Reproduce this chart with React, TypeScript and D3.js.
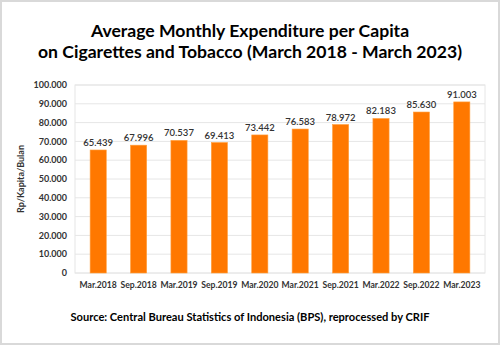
import React from "react";
import * as d3 from "d3";

const categories = ["Mar.2018", "Sep.2018", "Mar.2019", "Sep.2019", "Mar.2020", "Mar.2021", "Sep.2021", "Mar.2022", "Sep.2022", "Mar.2023"];
const values = [65439, 67996, 70537, 69413, 73442, 76583, 78972, 82183, 85630, 91003];
const yTicks = [0, 10000, 20000, 30000, 40000, 50000, 60000, 70000, 80000, 90000, 100000];
const titleLines = ["Average Monthly Expenditure per Capita", "on Cigarettes and Tobacco (March 2018 - March 2023)"];
const yTitle = "Rp/Kapita/Bulan";
const source = "Source: Central Bureau Statistics of Indonesia (BPS), reprocessed by CRIF";

const W = 500, H = 345;
const plot = { left: 78, right: 482, top: 85, bottom: 273 };
const fmt = (v: number) => d3.format(",")(v).replace(/,/g, ".");
const FONT = "Lato, 'Open Sans', sans-serif";

export default function App() {
  const x = d3.scaleBand<string>().domain(categories).range([plot.left, plot.right]).paddingInner(0.6).paddingOuter(0.3);
  const y = d3.scaleLinear().domain([0, 100000]).range([plot.bottom, plot.top]);
  return (
    <svg width={W} height={H} style={{ position: "absolute", left: 0, top: 0 }} fontFamily={FONT}>
      <rect x={1} y={1} width={W - 2} height={H - 2} fill="#fff" stroke="#d9d9d9" strokeWidth={2} />
      {titleLines.map((t, i) => (
        <text key={i} x={W / 2} y={37 + i * 20.5} textAnchor="middle" fontSize={17.6} fontWeight={700} fill="#000">{t}</text>
      ))}
      <rect x={75} y={plot.top} width={410} height={plot.bottom - plot.top} fill="none" stroke="#e6e6e6" strokeWidth={1} />
      {yTicks.map((t) => (
        <g key={t}>
          <line x1={75} x2={485} y1={y(t)} y2={y(t)} stroke="#e6e6e6" strokeWidth={1} />
          <text x={67} y={y(t)} dy="0.35em" textAnchor="end" fontSize={9} fontWeight={700} fill="#333">{fmt(t)}</text>
        </g>
      ))}
      {categories.map((c, i) => (
        <g key={c}>
          <rect x={x(c)} y={y(values[i])} width={x.bandwidth()} height={y(0) - y(values[i])} fill="#FF7800" stroke="#FFA040" strokeWidth={0.6} />
          <text x={(x(c) as number) + x.bandwidth() / 2} y={y(values[i]) - 4} textAnchor="middle" fontSize={9.5} fontWeight={600} fill="#333">{fmt(values[i])}</text>
          <text x={(x(c) as number) + x.bandwidth() / 2} y={288} textAnchor="middle" fontSize={8.6} fontWeight={700} fill="#333">{c}</text>
        </g>
      ))}
      <text transform={`translate(24,${(plot.top + plot.bottom) / 2}) rotate(-90)`} textAnchor="middle" fontSize={9} fontWeight={700} fill="#333">{yTitle}</text>
      <text x={W / 2} y={321} textAnchor="middle" fontSize={11.1} fontWeight={700} fill="#000">{source}</text>
    </svg>
  );
}
